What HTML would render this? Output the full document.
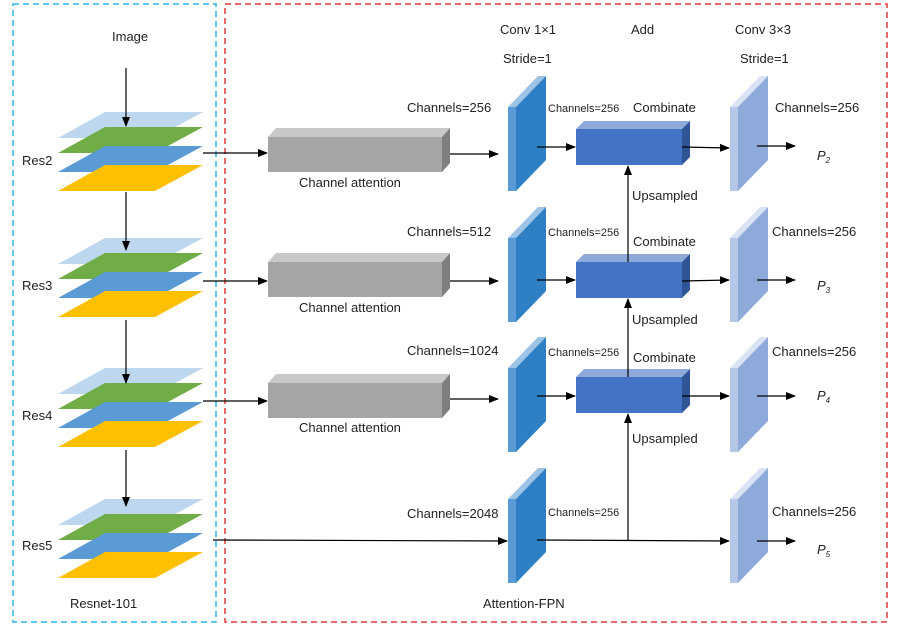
<!DOCTYPE html>
<html><head><meta charset="utf-8"><style>
html,body{margin:0;padding:0;background:#fff;}
svg{display:block;font-family:"Liberation Sans",Arial,sans-serif;}
</style></head><body>
<svg width="900" height="626" viewBox="0 0 900 626" xmlns="http://www.w3.org/2000/svg">
<defs>
<marker id="a" markerWidth="10" markerHeight="8" refX="9" refY="4" orient="auto" markerUnits="userSpaceOnUse">
<path d="M0,0 L10,4 L0,8 z" fill="#000"/></marker>
<g id="stack">
<polygon points="58,26 105,0 203,0 155,26" fill="#bdd7ee"/>
<polygon points="58,41 105,15 203,15 155,41" fill="#70ad47"/>
<polygon points="58,60 105,34 203,34 155,60" fill="#5b9bd5"/>
<polygon points="58,79 105,53 203,53 155,79" fill="#ffc000"/>
</g>
<g id="p1">
<polygon points="508,0 538,-31 546,-31 516,0" fill="#9dc3e6"/>
<rect x="508" y="0" width="8" height="84" fill="#5b9bd5"/>
<polygon points="516,0 546,-31 546,53 516,84" fill="#2e7fc4"/>
</g>
<g id="p3">
<polygon points="730,0 760,-31 768,-31 738,0" fill="#dae3f3"/>
<rect x="730" y="0" width="8" height="84" fill="#b4c7e7"/>
<polygon points="738,0 768,-31 768,53 738,84" fill="#8eaadb"/>
</g>
<g id="gb">
<polygon points="268,0 276,-9 450,-9 442,0" fill="#c8c8c8"/>
<polygon points="442,0 450,-9 450,26 442,35" fill="#7f7f7f"/>
<rect x="268" y="0" width="174" height="35" fill="#a5a5a5"/>
</g>
<g id="cb">
<polygon points="576,0 584,-8 690,-8 682,0" fill="#8eaadb"/>
<polygon points="682,0 690,-8 690,28 682,36" fill="#2f5597"/>
<rect x="576" y="0" width="106" height="36" fill="#4472c4"/>
</g>
</defs>
<rect x="13" y="4" width="203" height="618" fill="none" stroke="#2ab5e6" stroke-width="1.5" stroke-dasharray="6,4"/>
<rect x="225" y="4" width="662" height="618" fill="none" stroke="#e03a3a" stroke-width="1.5" stroke-dasharray="6,4"/>
<g font-size="13" fill="#222">
<text x="112" y="41">Image</text>
<text x="22" y="165">Res2</text><text x="22" y="290">Res3</text><text x="22" y="420">Res4</text><text x="22" y="550">Res5</text>
<text x="70" y="608">Resnet-101</text>
<text x="483" y="608">Attention-FPN</text>
<text x="500" y="34">Conv 1×1</text><text x="503" y="63">Stride=1</text>
<text x="631" y="34">Add</text>
<text x="735" y="34">Conv 3×3</text><text x="740" y="63">Stride=1</text>
<text x="299" y="187">Channel attention</text><text x="299" y="312">Channel attention</text><text x="299" y="432">Channel attention</text>
<text x="407" y="112">Channels=256</text><text x="407" y="236">Channels=512</text><text x="407" y="355">Channels=1024</text><text x="407" y="518">Channels=2048</text>
<text x="633" y="112">Combinate</text><text x="633" y="246">Combinate</text><text x="633" y="362">Combinate</text>
<text x="632" y="200">Upsampled</text><text x="632" y="324">Upsampled</text><text x="632" y="443">Upsampled</text>
<text x="775" y="112">Channels=256</text><text x="772" y="236">Channels=256</text><text x="772" y="356">Channels=256</text><text x="772" y="516">Channels=256</text>
</g>
<g font-size="11" fill="#222">
<text x="548" y="112">Channels=256</text><text x="548" y="236">Channels=256</text><text x="548" y="356">Channels=256</text><text x="548" y="516">Channels=256</text>
</g>
<g font-size="13" font-style="italic" fill="#222">
<text x="817" y="160">P<tspan font-size="8" dy="3">2</tspan></text>
<text x="817" y="290">P<tspan font-size="8" dy="3">3</tspan></text>
<text x="817" y="400">P<tspan font-size="8" dy="3">4</tspan></text>
<text x="817" y="554">P<tspan font-size="8" dy="3">5</tspan></text>
</g>
<use href="#stack" transform="translate(0,112)"/>
<use href="#stack" transform="translate(0,238)"/>
<use href="#stack" transform="translate(0,368)"/>
<use href="#stack" transform="translate(0,499)"/>
<use href="#gb" transform="translate(0,137)"/>
<use href="#gb" transform="translate(0,262)"/>
<use href="#gb" transform="translate(0,383)"/>
<use href="#p1" transform="translate(0,107)"/>
<use href="#p1" transform="translate(0,238)"/>
<use href="#p1" transform="translate(0,368)"/>
<use href="#p1" transform="translate(0,499)"/>
<use href="#p3" transform="translate(0,107)"/>
<use href="#p3" transform="translate(0,238)"/>
<use href="#p3" transform="translate(0,368)"/>
<use href="#p3" transform="translate(0,499)"/>
<use href="#cb" transform="translate(0,129)"/>
<use href="#cb" transform="translate(0,262)"/>
<use href="#cb" transform="translate(0,377)"/>
<g stroke="#000" stroke-width="1.2" fill="none" marker-end="url(#a)">
<line x1="126" y1="68" x2="126" y2="126"/>
<line x1="126" y1="192" x2="126" y2="250"/>
<line x1="126" y1="320" x2="126" y2="383"/>
<line x1="126" y1="450" x2="126" y2="506"/>
<line x1="203" y1="153" x2="267" y2="153"/>
<line x1="203" y1="281" x2="267" y2="281"/>
<line x1="203" y1="401" x2="267" y2="401"/>
<line x1="450" y1="154" x2="498" y2="154"/>
<line x1="450" y1="281" x2="498" y2="281"/>
<line x1="450" y1="399" x2="498" y2="399"/>
<line x1="213" y1="540" x2="507" y2="541"/>
<line x1="537" y1="147" x2="575" y2="147"/>
<line x1="537" y1="280" x2="575" y2="280"/>
<line x1="537" y1="396" x2="575" y2="396"/>
<line x1="682" y1="147" x2="729" y2="148"/>
<line x1="682" y1="281" x2="729" y2="280"/>
<line x1="682" y1="396" x2="729" y2="396"/>
<line x1="537" y1="540" x2="729" y2="541"/>
<line x1="757" y1="146" x2="795" y2="146"/>
<line x1="757" y1="280" x2="795" y2="280"/>
<line x1="757" y1="396" x2="795" y2="396"/>
<line x1="757" y1="541" x2="795" y2="541"/>
<line x1="628" y1="262" x2="628" y2="166"/>
<line x1="628" y1="377" x2="628" y2="299"/>
<line x1="628" y1="540" x2="628" y2="414"/>
</g>
</svg>
</body></html>
